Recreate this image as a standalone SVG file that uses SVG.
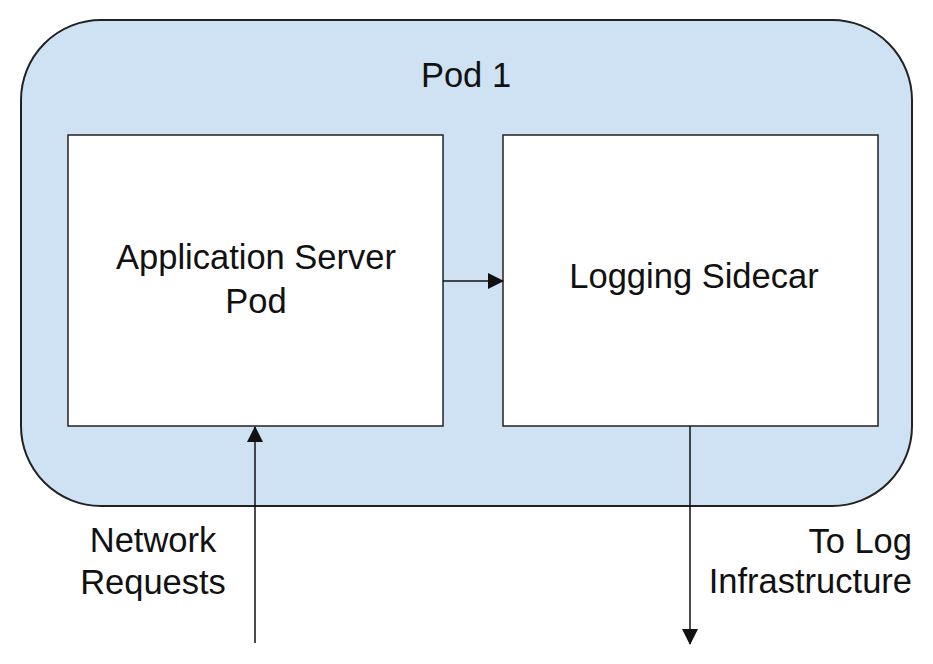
<svg xmlns="http://www.w3.org/2000/svg" width="933" height="664" viewBox="0 0 933 664">
<style>
.t{font-family:"Liberation Sans",Arial,sans-serif;font-size:34.5px;fill:#111;}
.box{fill:#fff;stroke:#222;stroke-width:1.5;}
.edge{stroke:#111;stroke-width:1.5;fill:none;}
</style>
<defs>
<marker id="ah" viewBox="0 0 16 16" refX="15" refY="8" markerWidth="16" markerHeight="16" markerUnits="userSpaceOnUse" orient="auto">
<path d="M0,0 L16,8 L0,16 z" fill="#111"/>
</marker>
</defs>
<rect width="933" height="664" fill="#fff"/>
<g id="pod1">
<rect x="21" y="20" width="891" height="486" rx="80" ry="80" fill="#cfe2f3" stroke="#222" stroke-width="2"/>
<text class="t" x="466" y="87" text-anchor="middle">Pod 1</text>
</g>
<g id="app-server">
<rect class="box" x="68" y="135" width="375" height="291"/>
<text class="t" x="256" y="269" text-anchor="middle">Application Server</text>
<text class="t" x="256" y="313" text-anchor="middle">Pod</text>
</g>
<g id="logging-sidecar">
<rect class="box" x="503" y="135" width="375" height="291"/>
<text class="t" x="694" y="288" text-anchor="middle">Logging Sidecar</text>
</g>
<g id="network-requests">
<text class="t" x="153" y="552" text-anchor="middle">Network</text>
<text class="t" x="153" y="594" text-anchor="middle">Requests</text>
</g>
<g id="log-infra">
<text class="t" x="912" y="553" text-anchor="end">To Log</text>
<text class="t" x="912" y="593" text-anchor="end">Infrastructure</text>
</g>
<g id="connectors">
<line class="edge" x1="443" y1="281" x2="503" y2="281" marker-end="url(#ah)"/>
<line class="edge" x1="255" y1="643" x2="255" y2="427" marker-end="url(#ah)"/>
<line class="edge" x1="690" y1="426" x2="690" y2="644" marker-end="url(#ah)"/>
</g>
</svg>
